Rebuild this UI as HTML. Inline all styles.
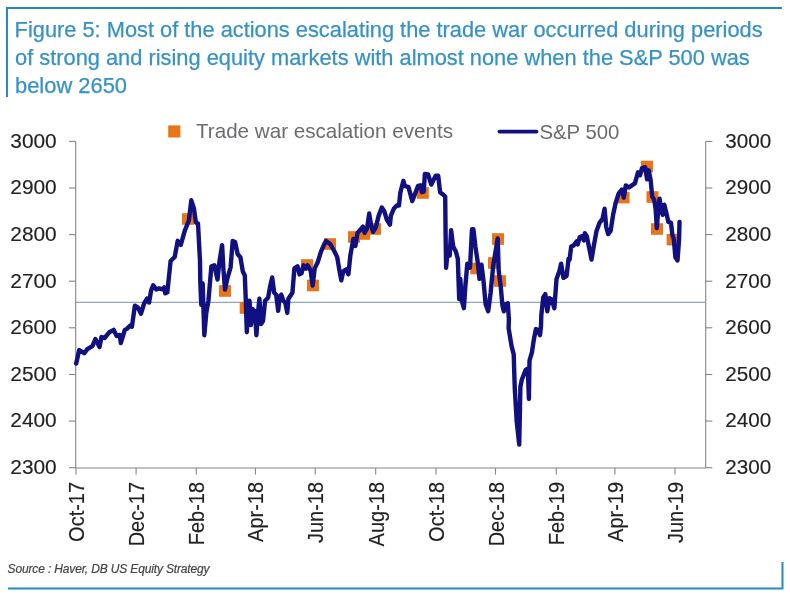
<!DOCTYPE html>
<html><head><meta charset="utf-8"><title>Figure 5</title>
<style>
html,body{margin:0;padding:0;background:#fff;}
body{width:790px;height:600px;overflow:hidden;font-family:"Liberation Sans",sans-serif;}
svg{display:block;}
svg text{font-family:"Liberation Sans",sans-serif;}
</style></head>
<body>
<svg width="790" height="600" viewBox="0 0 790 600">
<rect width="790" height="600" fill="#ffffff"/>
<!-- frame -->
<g stroke="#2389c8" stroke-width="2" fill="none">
<path d="M7,97 V8 H782"/>
<path d="M8,588.5 H782.5 V562"/>
</g>
<!-- title -->
<g fill="#3692c4" font-size="22px" stroke="#3692c4" stroke-width="0.25">
<text x="14.6" y="36.7" textLength="748" lengthAdjust="spacingAndGlyphs">Figure 5: Most of the actions escalating the trade war occurred during periods</text>
<text x="15" y="64.6" textLength="734.7" lengthAdjust="spacingAndGlyphs">of strong and rising equity markets with almost none when the S&amp;P 500 was</text>
<text x="15" y="92.9" textLength="112" lengthAdjust="spacingAndGlyphs">below 2650</text>
</g>
<!-- legend -->
<rect x="168.2" y="125.4" width="12.2" height="12.1" fill="#e8751a"/>
<text x="196" y="137.7" font-size="21px" fill="#6c6c70" textLength="257" lengthAdjust="spacingAndGlyphs">Trade war escalation events</text>
<line x1="499.5" x2="536.5" y1="131.6" y2="131.6" stroke="#101080" stroke-width="3.8" stroke-linecap="round"/>
<text x="539.4" y="138.5" font-size="21px" fill="#6c6c70" textLength="80" lengthAdjust="spacingAndGlyphs">S&amp;P 500</text>
<!-- axes -->
<g stroke="#858585" stroke-width="1.1" fill="none">
<line x1="75.7" x2="75.7" y1="141.4" y2="468"/>
<line x1="705.7" x2="705.7" y1="141.4" y2="468"/>
<line x1="75.7" x2="705.7" y1="468" y2="468"/>
<line x1="69" x2="75.7" y1="467.7" y2="467.7"/><line x1="705.7" x2="712.3" y1="467.7" y2="467.7"/><line x1="69" x2="75.7" y1="421.1" y2="421.1"/><line x1="705.7" x2="712.3" y1="421.1" y2="421.1"/><line x1="69" x2="75.7" y1="374.5" y2="374.5"/><line x1="705.7" x2="712.3" y1="374.5" y2="374.5"/><line x1="69" x2="75.7" y1="327.8" y2="327.8"/><line x1="705.7" x2="712.3" y1="327.8" y2="327.8"/><line x1="69" x2="75.7" y1="281.2" y2="281.2"/><line x1="705.7" x2="712.3" y1="281.2" y2="281.2"/><line x1="69" x2="75.7" y1="234.6" y2="234.6"/><line x1="705.7" x2="712.3" y1="234.6" y2="234.6"/><line x1="69" x2="75.7" y1="188.0" y2="188.0"/><line x1="705.7" x2="712.3" y1="188.0" y2="188.0"/><line x1="69" x2="75.7" y1="141.4" y2="141.4"/><line x1="705.7" x2="712.3" y1="141.4" y2="141.4"/><line x1="76" x2="76" y1="468" y2="474.6"/><line x1="136.1" x2="136.1" y1="468" y2="474.6"/><line x1="196.3" x2="196.3" y1="468" y2="474.6"/><line x1="255.4" x2="255.4" y1="468" y2="474.6"/><line x1="315.2" x2="315.2" y1="468" y2="474.6"/><line x1="375.7" x2="375.7" y1="468" y2="474.6"/><line x1="436" x2="436" y1="468" y2="474.6"/><line x1="495.5" x2="495.5" y1="468" y2="474.6"/><line x1="556.3" x2="556.3" y1="468" y2="474.6"/><line x1="614.9" x2="614.9" y1="468" y2="474.6"/><line x1="675" x2="675" y1="468" y2="474.6"/>
</g>
<line x1="75.7" x2="705.7" y1="302.4" y2="302.4" stroke="#8fa5c6" stroke-width="1.4"/>
<g font-size="21px" fill="#222222" stroke="#222" stroke-width="0.15"><text x="10.3" y="474.0" textLength="46.4" lengthAdjust="spacingAndGlyphs">2300</text><text x="725.3" y="474.0" textLength="46" lengthAdjust="spacingAndGlyphs">2300</text><text x="10.3" y="427.4" textLength="46.4" lengthAdjust="spacingAndGlyphs">2400</text><text x="725.3" y="427.4" textLength="46" lengthAdjust="spacingAndGlyphs">2400</text><text x="10.3" y="380.8" textLength="46.4" lengthAdjust="spacingAndGlyphs">2500</text><text x="725.3" y="380.8" textLength="46" lengthAdjust="spacingAndGlyphs">2500</text><text x="10.3" y="334.1" textLength="46.4" lengthAdjust="spacingAndGlyphs">2600</text><text x="725.3" y="334.1" textLength="46" lengthAdjust="spacingAndGlyphs">2600</text><text x="10.3" y="287.5" textLength="46.4" lengthAdjust="spacingAndGlyphs">2700</text><text x="725.3" y="287.5" textLength="46" lengthAdjust="spacingAndGlyphs">2700</text><text x="10.3" y="240.9" textLength="46.4" lengthAdjust="spacingAndGlyphs">2800</text><text x="725.3" y="240.9" textLength="46" lengthAdjust="spacingAndGlyphs">2800</text><text x="10.3" y="194.3" textLength="46.4" lengthAdjust="spacingAndGlyphs">2900</text><text x="725.3" y="194.3" textLength="46" lengthAdjust="spacingAndGlyphs">2900</text><text x="10.3" y="147.7" textLength="46.4" lengthAdjust="spacingAndGlyphs">3000</text><text x="725.3" y="147.7" textLength="46" lengthAdjust="spacingAndGlyphs">3000</text></g>
<g font-size="22px" fill="#222222" stroke="#222" stroke-width="0.15"><text text-anchor="end" transform="translate(84.0,481.9) rotate(-90) scale(0.909,1)">Oct-17</text><text text-anchor="end" transform="translate(144.1,481.9) rotate(-90) scale(0.909,1)">Dec-17</text><text text-anchor="end" transform="translate(204.3,481.9) rotate(-90) scale(0.909,1)">Feb-18</text><text text-anchor="end" transform="translate(263.4,481.9) rotate(-90) scale(0.909,1)">Apr-18</text><text text-anchor="end" transform="translate(323.2,481.9) rotate(-90) scale(0.909,1)">Jun-18</text><text text-anchor="end" transform="translate(383.7,481.9) rotate(-90) scale(0.909,1)">Aug-18</text><text text-anchor="end" transform="translate(444.0,481.9) rotate(-90) scale(0.909,1)">Oct-18</text><text text-anchor="end" transform="translate(503.5,481.9) rotate(-90) scale(0.909,1)">Dec-18</text><text text-anchor="end" transform="translate(564.3,481.9) rotate(-90) scale(0.909,1)">Feb-19</text><text text-anchor="end" transform="translate(622.9,481.9) rotate(-90) scale(0.909,1)">Apr-19</text><text text-anchor="end" transform="translate(683.0,481.9) rotate(-90) scale(0.909,1)">Jun-19</text></g>
<!-- events -->
<g fill="#e8751a"><rect x="182.0" y="213.2" width="12" height="11.6"/><rect x="219.0" y="285.2" width="12" height="11.6"/><rect x="239.7" y="302.2" width="12" height="11.6"/><rect x="301.0" y="259.2" width="12" height="11.6"/><rect x="307.0" y="279.7" width="12" height="11.6"/><rect x="324.0" y="238.2" width="12" height="11.6"/><rect x="348.0" y="231.2" width="12" height="11.6"/><rect x="358.0" y="228.2" width="12" height="11.6"/><rect x="369.0" y="223.2" width="12" height="11.6"/><rect x="416.8" y="187.2" width="12" height="11.6"/><rect x="470.3" y="262.7" width="12" height="11.6"/><rect x="492.0" y="233.2" width="12" height="11.6"/><rect x="488.0" y="257.2" width="12" height="11.6"/><rect x="494.0" y="275.2" width="12" height="11.6"/><rect x="641.0" y="160.7" width="12" height="11.6"/><rect x="617.6" y="191.8" width="12" height="11.6"/><rect x="646.5" y="191.2" width="12" height="11.6"/><rect x="651.0" y="223.2" width="12" height="11.6"/><rect x="666.6" y="233.8" width="12" height="11.6"/></g>
<!-- S&P 500 -->
<polyline fill="none" stroke="#101080" stroke-width="4.4" stroke-linejoin="round" stroke-linecap="round" points="76.2,363.5 79.2,350.1 84.3,353.2 87.3,349.1 92.4,346.1 95.4,339.0 99.5,347.1 101.5,337.0 104.6,338.0 109.6,331.9 113.7,329.9 116.7,335.9 119.7,334.9 120.8,343.0 124.8,329.9 126.8,328.9 129.9,325.8 131.9,326.8 134.9,305.6 138.0,307.6 141.0,313.7 144.1,303.5 147.1,298.5 149.1,302.5 151.1,290.4 153.2,285.3 156.2,289.4 159.2,288.4 162.3,289.4 164.3,287.3 165.3,293.4 167.3,292.4 170.6,261.0 174.7,257.0 177.7,240.8 180.8,244.8 184.8,230.6 188.9,220.5 191.3,200.3 193.9,208.4 195.9,222.5 198.0,223.5 200.0,261.0 200.3,282.5 201.3,304.8 202.7,283.5 204.3,335.2 206.3,312.9 208.4,300.8 211.4,266.3 214.4,265.3 217.5,279.5 219.5,261.3 222.1,245.1 223.5,270.4 225.0,289.6 227.6,277.5 230.6,267.3 232.7,241.0 235.1,242.0 237.7,254.2 240.4,257.2 242.8,271.4 244.8,275.4 245.8,300.8 246.8,332.2 247.8,314.9 249.5,300.8 250.9,325.1 252.5,308.9 253.9,321.0 254.9,310.9 256.4,335.2 258.0,312.9 259.4,298.7 261.0,324.1 263.0,321.0 265.1,300.8 268.1,297.7 270.1,286.6 272.2,277.5 274.2,292.7 276.2,294.7 278.2,310.9 279.6,296.7 281.3,294.7 283.3,300.8 285.3,302.8 287.3,312.9 288.4,298.7 290.4,295.7 292.4,292.7 294.4,268.4 297.5,266.3 299.5,274.4 301.5,273.4 303.5,265.3 305.6,268.4 307.6,265.3 310.6,270.4 312.7,285.6 314.7,268.4 317.7,262.3 320.8,252.2 323.8,245.1 326.1,240.9 330.1,243.9 334.2,251.0 337.2,257.1 339.2,269.2 341.3,280.4 343.3,271.3 346.3,269.2 348.4,274.3 350.4,255.1 353.4,238.9 355.4,245.9 357.5,232.8 360.5,229.7 362.9,226.7 364.6,232.8 367.0,228.7 369.2,213.5 371.0,224.7 373.1,231.8 375.7,227.7 378.7,215.6 381.8,207.5 384.4,211.5 386.8,219.6 389.9,224.7 390.9,215.6 393.9,208.5 397.0,205.4 399,205.5 400.3,192.8 403.4,180.8 404.7,185.9 408.5,187.2 412.3,201.1 418,185.9 420.5,185.3 421.8,192.2 423.7,191.6 424.9,173.9 428.1,174.5 431.3,184.6 435.7,175.8 438.2,175.8 440.1,192.2 443.3,194.7 445.2,196.6 445.6,234.8 446.1,267.7 447.7,250.5 449.7,255.6 451.1,230.3 453.2,246.5 455.8,251.5 457.8,258.6 459.2,299.1 460.3,278.9 461.9,301.1 463.9,308.2 465.3,287.0 467.3,263.7 470.0,267.7 472.0,229.2 473.4,229.2 475.4,246.5 477.5,260.6 479.5,278.9 481.5,264.7 483.5,280.9 485.6,304.2 488.2,311.3 490.6,293.0 493.1,266.7 495.7,250.5 497.7,238.4 498.7,270.8 500.8,287.0 502.4,305.2 503.8,311.3 505.8,304.2 507.8,303.2 508.9,319.4 508.6,328.1 511.6,346.3 513.7,354.4 514.7,386.8 516.7,421.3 519.2,444.6 519.7,421.3 520.4,386.8 521.8,379.7 525.8,369.6 527.8,368.6 528.9,399.0 529.5,360.5 531.9,352.4 533.9,339.2 535.9,329.1 538.0,330.1 540.0,335.2 541.0,326.1 541.3,315.3 543.3,297.1 545.3,294.1 547.3,311.3 549.4,298.1 551.4,299.1 554.4,308.2 556.5,278.9 559.5,270.8 561.1,263.7 563.5,277.8 566.6,275.8 568.6,258.6 569.6,259.6 571.2,246.5 573.7,245.4 576.7,241.4 577.7,244.4 579.7,237.3 581.8,236.3 583.8,240.4 584.8,233.3 586.8,236.3 588.9,246.5 591.5,259.6 593.9,245.4 596.5,231.0 599.5,222.9 602.5,218.9 604.6,208.7 606.2,227.0 608.2,234.1 610.6,231.0 613.1,214.8 615.7,202.7 618.7,193.5 621.8,189.5 623.8,197.6 625.8,185.4 628.9,187.5 631.9,185.4 634.9,183.4 638.0,172.3 640.0,175.3 642.0,168.2 645.1,167.2 647.1,179.4 648.7,170.3 650.7,180.4 652.2,196.6 654.2,199.6 655.6,208.7 656.8,228.0 658.2,210.8 659.6,198.6 661.3,210.8 662.7,214.8 664.3,204.7 666.3,212.8 668.4,221.9 671.0,222.9 672.4,235.1 673.8,239.1 675.4,257.3 677.5,260.4 679.1,239.1 679.5,221.9"/>
<!-- source -->
<text x="7.6" y="573.2" font-size="12px" stroke="#444" stroke-width="0.2" font-style="italic" fill="#444444" textLength="202" lengthAdjust="spacing">Source : Haver, DB US Equity Strategy</text>
</svg>
</body></html>
